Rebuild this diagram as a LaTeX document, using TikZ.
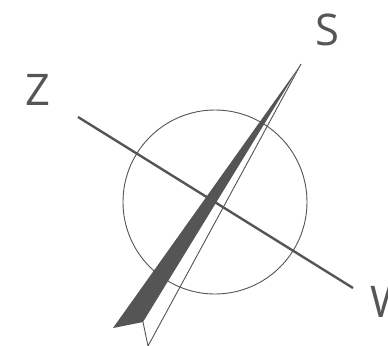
\documentclass[tikz,border=0pt]{standalone}
\usepackage{fontspec}
\setmainfont{Open Sans}
\usepackage{xcolor}
\definecolor{rosagray}{RGB}{85, 85, 85}

\begin{document}
\begin{tikzpicture}[
    x=0.5mm, y=-0.5mm,
    letra/.style={font=\fontsize{62}{62}\selectfont, text=rosagray, inner sep=0pt},
    eje/.style={line width=3.4pt, draw=rosagray},
    fino/.style={line width=1.3pt, draw=rosagray}
]
\useasboundingbox (0,0) rectangle (388,346);

% Circulo de la rosa
\coordinate (centro) at (215, 202);
\draw[fino] (centro) circle (92);

% Eje Z--W
\coordinate (z1) at (78, 117);
\coordinate (w1) at (353, 288);
\draw[eje] (z1) -- (w1);

% Aguja
\coordinate (punta) at (301, 64);
\coordinate (cola1) at (113, 328);
\coordinate (cola2) at (143, 322);
\coordinate (cola3) at (148, 346);
\fill[rosagray] (punta) -- (cola1) -- (cola2) -- cycle;
\draw[fino, line join=miter] (cola2) -- (cola3) -- (punta);

% Etiquetas
\node[letra] (Z) at (38, 90) {Z};
\node[letra] (S) at (327, 30) {S};
\node[letra, anchor=west] (W) at (370, 302) {W};

\end{tikzpicture}
\end{document}
